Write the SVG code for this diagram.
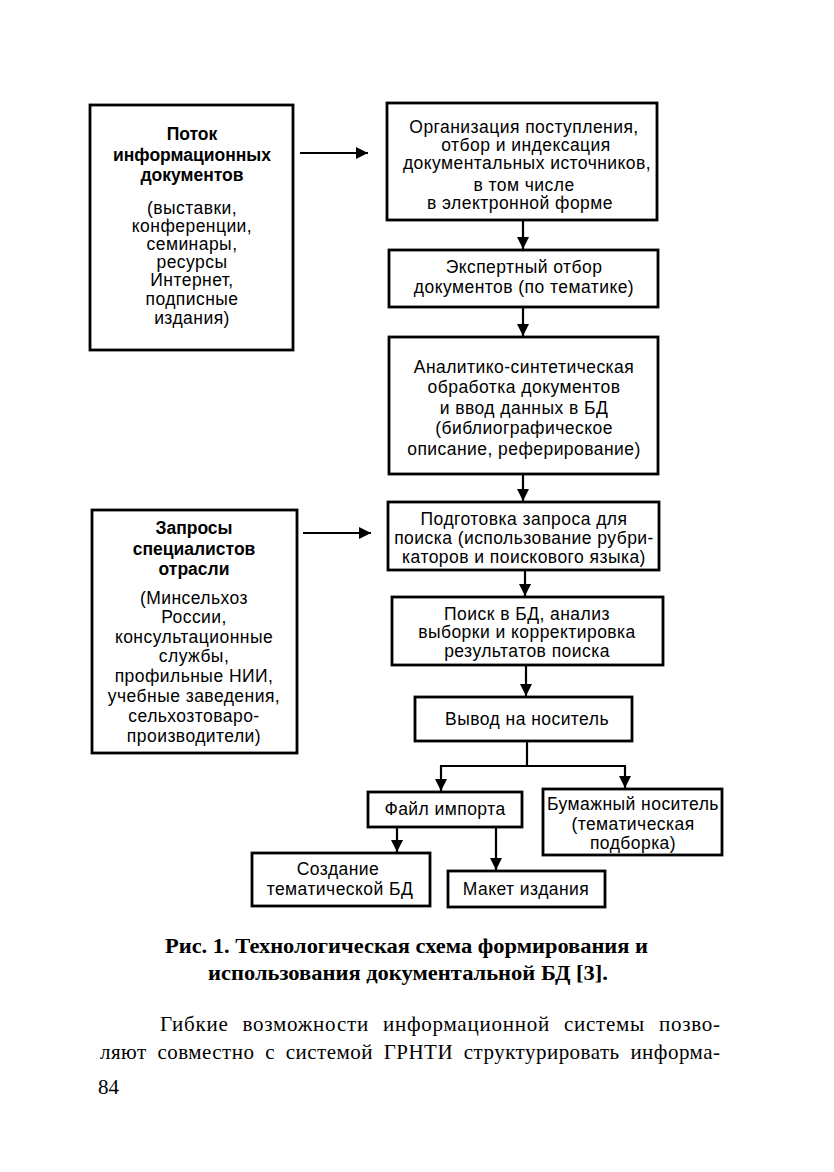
<svg xmlns="http://www.w3.org/2000/svg" width="834" height="1172" viewBox="0 0 834 1172">
<style>
.box{fill:#fff;stroke:#000;stroke-width:2.8}
.b{font-family:"Liberation Sans",Arial,sans-serif;font-weight:bold;font-size:17.5px;text-anchor:middle;fill:#000}
.t{font-family:"Liberation Sans",Arial,sans-serif;font-size:17.5px;letter-spacing:0.45px;text-anchor:middle;fill:#000}
.cap{font-family:"Liberation Serif","Times New Roman",serif;font-weight:bold;font-size:20.5px;fill:#000}
.p{font-family:"Liberation Serif","Times New Roman",serif;font-size:21px;fill:#000}
.ln{stroke:#000;stroke-width:2.2;fill:none}
</style>
<defs>
<marker id="ah" viewBox="0 0 12 12" refX="12" refY="6" markerWidth="12" markerHeight="12" markerUnits="userSpaceOnUse" orient="auto">
<path d="M0,0 L12,6 L0,12 Z" fill="#000"/>
</marker>
</defs>
<rect width="834" height="1172" fill="#fff"/>

<g id="n-potok">
<rect class="box" x="90" y="105" width="203" height="245"/>
<text class="b" x="192" y="140">Поток</text>
<text class="b" x="192" y="161">информационных</text>
<text class="b" x="192" y="181">документов</text>
<text class="t" x="192" y="214">(выставки,</text>
<text class="t" x="192" y="232">конференции,</text>
<text class="t" x="192" y="250">семинары,</text>
<text class="t" x="192" y="268">ресурсы</text>
<text class="t" x="192" y="286">Интернет,</text>
<text class="t" x="192" y="305">подписные</text>
<text class="t" x="192" y="324">издания)</text>
</g>

<g id="n-org">
<rect class="box" x="387" y="103" width="270" height="117"/>
<text class="t" x="524" y="133">Организация поступления,</text>
<text class="t" x="526" y="151">отбор и индексация</text>
<text class="t" x="527" y="169">документальных источников,</text>
<text class="t" x="524" y="191">в том числе</text>
<text class="t" x="520" y="209">в электронной форме</text>
</g>

<g id="n-expert">
<rect class="box" x="389" y="250" width="269" height="57"/>
<text class="t" x="524" y="273">Экспертный отбор</text>
<text class="t" x="524" y="293">документов (по тематике)</text>
</g>

<g id="n-analit">
<rect class="box" x="389" y="337" width="269" height="137"/>
<text class="t" x="524" y="373">Аналитико-синтетическая</text>
<text class="t" x="524" y="393">обработка документов</text>
<text class="t" x="524" y="414">и ввод данных в БД</text>
<text class="t" x="524" y="434">(библиографическое</text>
<text class="t" x="524" y="455">описание, реферирование)</text>
</g>

<g id="n-zapros-prep">
<rect class="box" x="388" y="502" width="271" height="68"/>
<text class="t" x="524" y="525">Подготовка запроса для</text>
<text class="t" x="524" y="544">поиска (использование рубри-</text>
<text class="t" x="524" y="563">каторов и поискового языка)</text>
</g>

<g id="n-poisk">
<rect class="box" x="392" y="597" width="271" height="68"/>
<text class="t" x="527" y="620">Поиск в БД, анализ</text>
<text class="t" x="527" y="638">выборки и корректировка</text>
<text class="t" x="527" y="657">результатов поиска</text>
</g>

<g id="n-vyvod">
<rect class="box" x="415" y="697" width="217" height="44"/>
<text class="t" x="527" y="725">Вывод на носитель</text>
</g>

<g id="n-fajl">
<rect class="box" x="368" y="792" width="154" height="35"/>
<text class="t" x="445" y="815">Файл импорта</text>
</g>

<g id="n-bumazh">
<rect class="box" x="543" y="789" width="179" height="66"/>
<text class="t" x="633" y="810">Бумажный носитель</text>
<text class="t" x="633" y="830">(тематическая</text>
<text class="t" x="633" y="849">подборка)</text>
</g>

<g id="n-sozd">
<rect class="box" x="252" y="853" width="178" height="53"/>
<text class="t" x="338" y="875">Создание</text>
<text class="t" x="340" y="895">тематической БД</text>
</g>

<g id="n-maket">
<rect class="box" x="448" y="871" width="157" height="36"/>
<text class="t" x="526" y="895">Макет издания</text>
</g>

<g id="n-zaprosy">
<rect class="box" x="92" y="510" width="205" height="243"/>
<text class="b" x="194" y="534">Запросы</text>
<text class="b" x="194" y="555">специалистов</text>
<text class="b" x="194" y="575">отрасли</text>
<text class="t" x="194" y="604">(Минсельхоз</text>
<text class="t" x="194" y="623">России,</text>
<text class="t" x="194" y="643">консультационные</text>
<text class="t" x="194" y="662">службы,</text>
<text class="t" x="194" y="682">профильные НИИ,</text>
<text class="t" x="194" y="702">учебные заведения,</text>
<text class="t" x="194" y="722">сельхозтоваро-</text>
<text class="t" x="194" y="742">производители)</text>
</g>

<g id="connectors">
<line class="ln" x1="300" y1="153" x2="368" y2="153" marker-end="url(#ah)"/>
<line class="ln" x1="303" y1="533" x2="371" y2="533" marker-end="url(#ah)"/>
<line class="ln" x1="523" y1="220" x2="523" y2="249" marker-end="url(#ah)"/>
<line class="ln" x1="523" y1="307" x2="523" y2="336" marker-end="url(#ah)"/>
<line class="ln" x1="523" y1="474" x2="523" y2="501" marker-end="url(#ah)"/>
<line class="ln" x1="525" y1="570" x2="525" y2="596" marker-end="url(#ah)"/>
<line class="ln" x1="526" y1="665" x2="526" y2="696" marker-end="url(#ah)"/>
<polyline class="ln" points="527,741 527,766"/>
<line class="ln" x1="440" y1="766" x2="626" y2="766"/>
<line class="ln" x1="441" y1="766" x2="441" y2="791" marker-end="url(#ah)"/>
<line class="ln" x1="625" y1="766" x2="625" y2="788" marker-end="url(#ah)"/>
<line class="ln" x1="397" y1="827" x2="397" y2="852" marker-end="url(#ah)"/>
<line class="ln" x1="496" y1="827" x2="496" y2="870" marker-end="url(#ah)"/>
</g>

<g id="caption">
<text class="cap" x="165" y="953" textLength="483" lengthAdjust="spacingAndGlyphs">Рис. 1. Технологическая схема формирования и</text>
<text class="cap" x="208" y="980" textLength="400" lengthAdjust="spacingAndGlyphs">использования документальной БД [3].</text>
</g>

<g id="body-text">
<text class="p" x="160" y="1031" textLength="560" lengthAdjust="spacing" word-spacing="8">Гибкие возможности информационной системы позво-</text>
<text class="p" x="100" y="1059" textLength="620" lengthAdjust="spacing" word-spacing="5">ляют совместно с системой ГРНТИ структурировать информа-</text>
<text class="p" x="98" y="1094">84</text>
</g>
</svg>
